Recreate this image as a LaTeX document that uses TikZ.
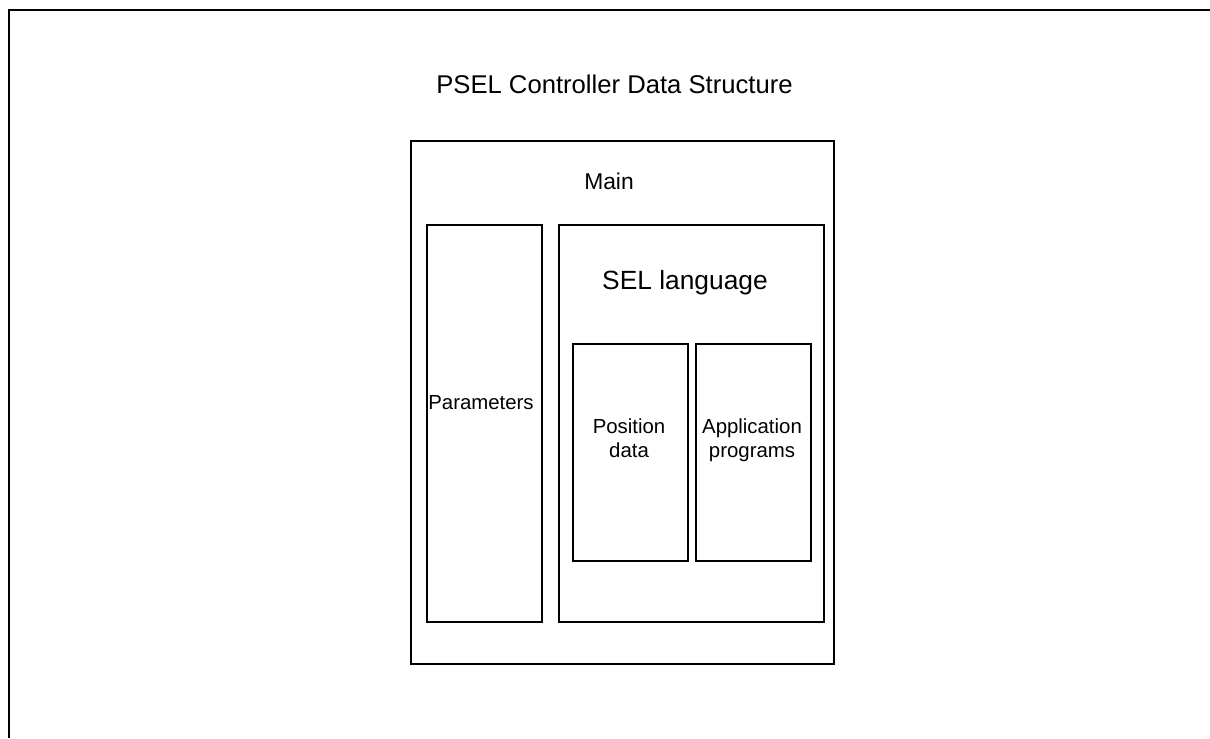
\documentclass[tikz,border=0pt]{standalone}
\usepackage{fontspec}
\setmainfont{Liberation Sans}
\usepackage{tikz}
\usetikzlibrary{positioning,fit}
\tikzset{
  framebox/.style={
    rectangle, draw=black, line width=0.6pt, inner sep=0pt
  },
  titletext/.style={
    anchor=base, inner sep=0pt, font=\fontsize{14.6}{17}\selectfont
  },
  headtext/.style={
    anchor=base, inner sep=0pt, font=\fontsize{#1}{#1}\selectfont
  },
  headtext/.default=13,
  celltext/.style={
    anchor=base, inner sep=0pt, align=center,
    font=\fontsize{11.6}{13.6}\selectfont
  },
  edgeline/.style={
    draw=black, line width=1.4pt
  },
}
\begin{document}
\begin{tikzpicture}[x=0.02cm, y=-0.02cm]
  \useasboundingbox (0,0) rectangle (1210,738);

  % page frame (cut at right and bottom)
  \coordinate (fbl) at (9,738);
  \coordinate (ftl) at (9,10);
  \coordinate (ftr) at (1210,10);
  \draw[edgeline] (fbl) -- (ftl) -- (ftr);

  \node[titletext] (title) at (614.5,93) {PSEL Controller Data Structure};

  % Main block
  \node[framebox, fit={(411,141) (834,664)}] (main) {};
  \node[headtext] (mainlbl) at (609,189) {Main};

  % Parameters and SEL language
  \node[framebox, fit={(427,225) (542,622)}] (params) {};
  \node[celltext] (paramslbl) at (481,409) {Parameters};
  \node[framebox, fit={(559,225) (824,622)}] (sel) {};
  \node[headtext=15] (sellbl) at (685,289) {SEL language};

  % inside SEL language
  \node[framebox, fit={(573,344) (688,561)}] (posdata) {};
  \node[celltext] (poslbl) at (629,457) {Position\\data};
  \node[framebox, fit={(696,344) (811,561)}] (appprog) {};
  \node[celltext] (applbl) at (752,457) {Application\\programs};
\end{tikzpicture}
\end{document}
